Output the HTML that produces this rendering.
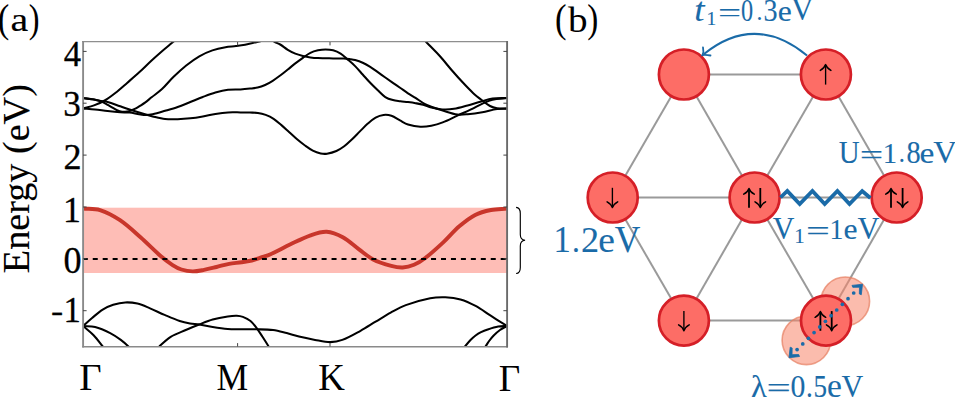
<!DOCTYPE html>
<html><head><meta charset="utf-8"><style>
html,body{margin:0;padding:0;background:#fff;width:955px;height:397px;overflow:hidden;}
svg{display:block;}
text{font-family:"Liberation Serif",serif;}
</style></head><body><svg width="955" height="397" viewBox="0 0 955 397"><defs><clipPath id="cp"><rect x="83.0" y="42.0" width="424.0" height="304.5"/></clipPath></defs><rect x="83.0" y="207.7" width="424.0" height="65.30000000000001" fill="#FEBDB6"/><g clip-path="url(#cp)" fill="none" stroke="#000" stroke-width="2.05" stroke-linecap="round" stroke-linejoin="round"><path d="M83.00,108.50 C86.67,107.47 90.44,106.71 94.00,105.40 C97.67,104.05 101.32,102.47 104.70,100.50 C108.42,98.33 111.90,95.67 115.30,93.00 C119.46,89.73 123.39,86.16 127.40,82.70 C131.46,79.20 135.55,75.72 139.50,72.10 C143.62,68.32 147.51,64.30 151.60,60.50 C155.01,57.34 158.48,54.24 162.00,51.20 C165.62,48.07 169.35,45.08 173.00,42.00 C175.35,40.02 177.67,38.00 180.00,36.00"/><path d="M83.00,98.00 C86.00,98.40 89.02,98.67 92.00,99.20 C95.02,99.74 98.10,100.25 101.00,101.20 C102.77,101.78 104.36,102.89 106.00,103.80 C107.59,104.69 109.12,105.68 110.70,106.60 C112.79,107.82 114.81,109.19 117.00,110.20 C118.58,110.93 120.29,111.56 122.00,111.80 C123.63,112.03 125.36,111.84 127.00,111.60 C128.36,111.40 129.70,110.97 131.00,110.50 C132.67,109.90 134.32,109.21 135.90,108.40 C137.32,107.67 138.65,106.76 140.00,105.90 C141.68,104.83 143.40,103.79 145.00,102.60 C147.26,100.92 149.39,99.05 151.60,97.30 C155.06,94.55 158.78,92.10 162.00,89.10 C165.94,85.43 169.24,81.07 173.10,77.30 C177.30,73.20 181.62,69.17 186.20,65.50 C190.36,62.17 194.70,58.95 199.30,56.30 C203.43,53.92 207.90,51.96 212.40,50.40 C216.63,48.93 221.09,48.00 225.50,47.20 C228.95,46.57 232.51,46.53 236.00,46.10 C239.04,45.73 242.09,45.37 245.10,44.80 C248.19,44.21 251.22,43.28 254.30,42.60 C256.02,42.22 257.82,42.12 259.50,41.60 C261.72,40.92 263.83,39.87 266.00,39.00"/><path d="M83.00,108.50 C87.00,108.83 91.01,109.08 95.00,109.50 C99.21,109.94 103.39,110.63 107.60,111.10 C111.79,111.57 115.99,112.01 120.20,112.30 C123.33,112.51 126.49,112.29 129.60,112.60 C132.79,112.92 135.92,113.74 139.10,114.20 C141.39,114.54 143.70,115.00 146.00,115.00 C148.20,115.00 150.44,114.67 152.60,114.20 C156.81,113.27 160.95,111.99 165.10,110.80 C169.32,109.59 173.56,108.44 177.70,107.00 C181.96,105.51 186.10,103.67 190.30,102.00 C194.47,100.34 198.60,98.57 202.80,97.00 C206.97,95.44 211.13,93.82 215.40,92.60 C219.53,91.42 223.75,90.34 228.00,89.80 C232.12,89.28 236.34,89.63 240.50,89.40 C243.67,89.23 246.84,88.93 250.00,88.60 C252.54,88.33 255.13,88.19 257.60,87.60 C260.16,86.99 262.70,86.08 265.10,85.00 C267.73,83.82 270.25,82.34 272.70,80.80 C275.29,79.17 277.75,77.33 280.20,75.50 C282.78,73.57 285.28,71.52 287.80,69.50 C290.31,67.48 292.75,65.37 295.30,63.40 C297.79,61.47 300.33,59.61 302.90,57.80 C305.36,56.07 307.73,54.12 310.40,52.80 C312.77,51.62 315.41,50.88 318.00,50.30 C320.44,49.75 323.00,49.40 325.50,49.40 C328.03,49.40 330.67,49.62 333.10,50.30 C335.70,51.02 338.31,52.16 340.60,53.60 C343.14,55.20 345.31,57.42 347.60,59.40 C350.14,61.59 352.73,63.73 355.10,66.10 C357.77,68.77 360.17,71.70 362.70,74.50 C365.20,77.27 367.62,80.11 370.20,82.80 C372.66,85.37 375.22,87.85 377.80,90.30 C380.25,92.62 382.51,95.29 385.30,97.10 C387.55,98.56 390.29,99.39 392.90,100.10 C395.32,100.76 397.90,100.87 400.40,101.20 C402.93,101.53 405.47,101.77 408.00,102.10 C410.50,102.43 413.01,102.77 415.50,103.20 C418.04,103.64 420.61,104.04 423.10,104.70 C425.88,105.44 428.51,106.73 431.30,107.40 C435.04,108.30 438.87,109.16 442.70,109.40 C446.44,109.63 450.29,109.40 454.00,108.80 C458.59,108.06 463.09,106.63 467.60,105.40 C472.16,104.16 476.64,102.64 481.20,101.40 C484.94,100.38 488.67,99.10 492.50,98.60 C497.27,97.97 502.17,98.20 507.00,98.00"/><path d="M83.00,98.00 C86.00,98.43 89.01,98.82 92.00,99.30 C95.01,99.78 97.99,100.40 101.00,100.90 C103.19,101.27 105.47,101.30 107.60,101.90 C111.87,103.10 116.00,104.85 120.20,106.30 C123.33,107.38 126.45,108.48 129.60,109.50 C134.72,111.15 139.85,112.76 145.00,114.30 C147.52,115.06 150.04,115.80 152.60,116.40 C156.74,117.37 160.89,118.53 165.10,119.00 C169.26,119.46 173.51,119.32 177.70,119.20 C181.91,119.08 186.12,118.77 190.30,118.30 C194.49,117.83 198.65,117.13 202.80,116.40 C207.02,115.66 211.17,114.57 215.40,113.90 C219.57,113.24 223.79,112.65 228.00,112.40 C232.15,112.15 236.33,112.36 240.50,112.40 C243.67,112.43 246.83,112.51 250.00,112.60 C252.63,112.68 255.31,112.52 257.90,112.90 C260.54,113.29 263.20,113.96 265.70,114.90 C268.43,115.93 271.15,117.21 273.60,118.80 C276.39,120.61 278.86,122.93 281.40,125.10 C284.09,127.40 286.67,129.83 289.30,132.20 C291.91,134.56 294.42,137.03 297.10,139.30 C299.65,141.46 302.29,143.55 305.00,145.50 C307.52,147.31 310.04,149.21 312.80,150.60 C315.28,151.85 318.00,152.81 320.70,153.40 C322.73,153.84 324.95,154.01 327.00,153.70 C330.18,153.21 333.43,152.28 336.40,151.00 C339.16,149.81 341.78,148.11 344.20,146.30 C347.01,144.21 349.55,141.72 352.10,139.30 C354.78,136.75 357.28,134.02 359.90,131.40 C362.52,128.78 365.03,126.04 367.80,123.60 C370.26,121.44 372.77,119.17 375.60,117.60 C378.00,116.27 380.80,115.22 383.50,114.90 C386.07,114.59 388.94,114.88 391.40,115.70 C394.44,116.71 397.11,118.87 400.00,120.40 C402.65,121.80 405.17,123.61 408.00,124.50 C411.94,125.74 416.17,126.57 420.30,126.80 C423.94,127.00 427.71,126.51 431.30,125.80 C435.17,125.04 439.02,123.84 442.70,122.40 C447.72,120.44 452.49,117.85 457.40,115.60 C461.93,113.52 466.51,111.55 471.00,109.40 C475.21,107.38 479.25,105.02 483.50,103.10 C486.42,101.78 489.39,100.38 492.50,99.70 C497.22,98.68 502.17,98.57 507.00,98.00"/><path d="M268.00,38.00 C270.30,39.33 272.56,40.75 274.90,42.00 C276.62,42.92 278.53,43.49 280.20,44.50 C282.83,46.09 285.16,48.21 287.80,49.80 C290.19,51.24 292.71,52.55 295.30,53.60 C297.74,54.59 300.34,55.25 302.90,55.90 C305.37,56.52 307.88,57.03 310.40,57.40 C312.91,57.77 315.46,57.99 318.00,58.10 C323.03,58.32 328.07,58.32 333.10,58.40 C336.63,58.45 340.17,58.33 343.70,58.50 C345.81,58.60 347.91,58.91 350.00,59.20 C351.71,59.44 353.44,59.63 355.10,60.10 C357.68,60.83 360.26,61.70 362.70,62.80 C365.29,63.97 367.78,65.40 370.20,66.90 C372.82,68.53 375.27,70.43 377.80,72.20 C380.31,73.96 382.79,75.74 385.30,77.50 C387.83,79.27 390.36,81.04 392.90,82.80 C395.40,84.54 397.90,86.26 400.40,88.00 C402.94,89.76 405.42,91.61 408.00,93.30 C410.45,94.91 413.03,96.32 415.50,97.90 C418.56,99.86 421.45,102.12 424.60,103.90 C426.71,105.09 429.02,105.97 431.30,106.80 C435.05,108.17 438.87,109.37 442.70,110.50 C447.57,111.94 452.43,113.76 457.40,114.50 C460.73,114.99 464.22,114.51 467.60,114.20 C472.52,113.75 477.43,113.06 482.30,112.20 C487.27,111.32 492.12,109.73 497.10,109.00 C500.36,108.53 503.70,108.73 507.00,108.60"/><path d="M420.00,35.50 C422.07,37.67 424.13,39.84 426.20,42.00 C427.16,43.00 428.13,44.00 429.10,45.00 C432.73,48.77 436.51,52.41 440.00,56.30 C444.14,60.91 447.93,65.82 452.00,70.50 C455.47,74.49 458.98,78.44 462.60,82.30 C465.98,85.91 469.38,89.54 473.00,92.90 C475.84,95.54 478.93,97.93 482.00,100.30 C484.59,102.30 487.14,104.49 490.00,106.00 C492.14,107.13 494.60,107.83 497.00,108.20 C500.27,108.70 503.67,108.47 507.00,108.60"/><path d="M83.00,326.00 C86.03,323.33 89.00,320.58 92.10,318.00 C95.56,315.12 98.91,311.97 102.70,309.60 C105.94,307.57 109.56,305.96 113.20,304.80 C117.09,303.56 121.24,302.60 125.30,302.40 C129.30,302.20 133.49,302.68 137.40,303.60 C141.55,304.58 145.53,306.45 149.50,308.10 C154.59,310.22 159.52,312.73 164.60,314.90 C169.59,317.03 174.57,319.26 179.70,321.00 C183.04,322.13 186.53,322.87 190.00,323.50 C193.00,324.04 196.09,324.04 199.10,324.50 C203.65,325.20 208.15,326.29 212.70,327.00 C217.71,327.79 222.75,328.55 227.80,329.00 C231.32,329.31 234.87,329.26 238.40,329.30 C244.43,329.36 250.47,329.18 256.50,329.30 C262.04,329.41 267.63,329.31 273.10,330.00 C277.69,330.58 282.19,331.97 286.70,333.10 C290.82,334.14 294.87,335.51 299.00,336.50 C304.33,337.78 309.70,338.93 315.10,339.90 C320.10,340.80 325.18,342.10 330.20,342.10 C334.25,342.10 338.50,341.32 342.30,339.90 C348.60,337.55 354.55,334.05 360.50,330.80 C365.65,327.98 370.56,324.72 375.60,321.70 C380.63,318.69 385.57,315.52 390.70,312.70 C395.63,309.99 400.53,307.02 405.80,305.10 C413.70,302.22 421.96,299.93 430.20,298.30 C435.12,297.33 440.29,297.12 445.30,297.30 C450.39,297.48 455.62,298.02 460.50,299.40 C465.72,300.88 470.79,303.31 475.60,305.90 C480.86,308.74 485.65,312.47 490.70,315.70 C496.11,319.17 501.57,322.57 507.00,326.00"/><path d="M83.00,326.00 C87.03,326.33 91.23,325.99 95.10,327.00 C100.29,328.36 105.37,330.68 110.20,333.10 C113.94,334.98 117.43,337.42 120.80,339.90 C123.49,341.88 126.03,344.15 128.40,346.50 C129.76,347.85 130.80,349.50 132.00,351.00"/><path d="M83.00,326.00 C86.53,329.10 90.35,331.92 93.60,335.30 C96.92,338.76 99.72,342.73 102.70,346.50 C103.85,347.96 104.90,349.50 106.00,351.00"/><path d="M155.00,352.00 C156.43,350.17 157.64,348.11 159.30,346.50 C162.87,343.04 166.51,339.41 170.70,336.80 C175.34,333.91 180.74,332.19 185.80,330.00 C190.20,328.09 194.63,326.24 199.10,324.50 C203.60,322.74 208.06,320.81 212.70,319.50 C217.63,318.11 222.73,317.20 227.80,316.40 C230.77,315.93 233.82,315.60 236.80,315.70 C238.85,315.77 240.99,316.16 242.90,316.90 C245.56,317.93 248.29,319.23 250.50,321.00 C252.82,322.86 254.68,325.40 256.50,327.80 C258.68,330.66 260.54,333.77 262.50,336.80 C264.57,340.01 266.64,343.22 268.60,346.50 C269.47,347.96 270.20,349.50 271.00,351.00"/><path d="M461.00,352.00 C462.33,350.17 463.59,348.28 465.00,346.50 C466.76,344.28 468.54,342.04 470.50,340.00 C472.07,338.37 473.79,336.85 475.60,335.50 C477.29,334.25 479.12,333.13 481.00,332.20 C483.15,331.13 485.41,330.24 487.70,329.50 C491.15,328.38 494.65,327.24 498.20,326.60 C501.08,326.08 504.07,326.20 507.00,326.00"/><path d="M481.00,352.00 C482.47,350.17 484.01,348.39 485.40,346.50 C486.84,344.55 488.04,342.43 489.50,340.50 C490.81,338.76 492.17,337.03 493.70,335.50 C495.67,333.53 497.74,331.61 500.00,330.00 C502.18,328.45 504.67,327.33 507.00,326.00"/></g><path clip-path="url(#cp)" d="M83.00,208.50 C88.67,209.03 94.67,208.41 100.00,210.10 C107.00,212.31 113.84,216.06 120.00,220.20 C127.34,225.13 133.83,231.42 140.50,237.30 C147.36,243.35 153.69,250.02 160.60,256.00 C164.39,259.28 168.41,262.38 172.60,265.10 C175.34,266.88 178.30,268.53 181.40,269.50 C185.00,270.63 188.92,271.33 192.70,271.40 C196.46,271.47 200.27,270.59 204.00,269.90 C208.20,269.12 212.34,268.01 216.50,267.00 C220.71,265.98 224.85,264.59 229.10,263.80 C233.25,263.03 237.52,262.91 241.70,262.30 C245.05,261.81 248.42,261.32 251.70,260.50 C254.69,259.75 257.57,258.58 260.50,257.60 C263.87,256.48 267.36,255.64 270.60,254.20 C277.36,251.20 283.80,247.46 290.50,244.30 C297.14,241.16 303.70,237.68 310.60,235.30 C315.76,233.52 321.42,231.47 326.70,231.80 C332.15,232.14 337.88,234.62 342.80,237.30 C348.65,240.49 353.55,245.43 359.00,249.40 C363.65,252.80 368.02,256.80 373.10,259.40 C378.78,262.30 385.12,264.21 391.30,265.90 C394.98,266.91 398.93,267.68 402.70,267.50 C406.50,267.32 410.47,266.28 414.00,264.80 C418.01,263.12 421.83,260.67 425.30,258.00 C431.66,253.10 437.61,247.59 443.50,242.10 C448.94,237.02 453.67,231.13 459.30,226.30 C464.23,222.07 469.47,217.84 475.20,214.90 C480.04,212.41 485.62,211.07 491.00,210.00 C496.22,208.97 501.67,209.07 507.00,208.60" fill="none" stroke="#C8362B" stroke-width="3.9" stroke-linecap="round"/><line x1="82.8" y1="259" x2="507" y2="259" stroke="#000" stroke-width="2" stroke-dasharray="5 4.95"/><g fill="none"><line x1="82.2" y1="41.6" x2="508" y2="41.6" stroke="#8e8e8e" stroke-width="1.3"/><line x1="82.2" y1="346.8" x2="508" y2="346.8" stroke="#8a8a8a" stroke-width="1.5"/><line x1="83.1" y1="41" x2="83.1" y2="347.5" stroke="#8a8a8a" stroke-width="1.9"/><line x1="507.1" y1="41" x2="507.1" y2="347.5" stroke="#6a6a6a" stroke-width="1.9"/></g><g stroke="#444" stroke-width="1"><line x1="83.0" y1="51.4" x2="86.6" y2="51.4"/><line x1="507.0" y1="51.4" x2="503.4" y2="51.4"/><line x1="83.0" y1="103.2" x2="86.6" y2="103.2"/><line x1="507.0" y1="103.2" x2="503.4" y2="103.2"/><line x1="83.0" y1="155.1" x2="86.6" y2="155.1"/><line x1="507.0" y1="155.1" x2="503.4" y2="155.1"/><line x1="83.0" y1="207.0" x2="86.6" y2="207.0"/><line x1="507.0" y1="207.0" x2="503.4" y2="207.0"/><line x1="83.0" y1="258.8" x2="86.6" y2="258.8"/><line x1="507.0" y1="258.8" x2="503.4" y2="258.8"/><line x1="83.0" y1="310.7" x2="86.6" y2="310.7"/><line x1="507.0" y1="310.7" x2="503.4" y2="310.7"/><line x1="237.6" y1="42.0" x2="237.6" y2="45.4"/><line x1="237.6" y1="346.5" x2="237.6" y2="343.1"/><line x1="330.0" y1="42.0" x2="330.0" y2="45.4"/><line x1="330.0" y1="346.5" x2="330.0" y2="343.1"/></g><text transform="translate(63.67,65.55) scale(0.34635,0.36615)" font-size="100" fill="#000" stroke="#000" stroke-width="0.84" stroke-linejoin="round">4</text><text transform="translate(63.37,116.00) scale(0.35102,0.36316)" font-size="100" fill="#000" stroke="#000" stroke-width="0.84" stroke-linejoin="round">3</text><text transform="translate(63.46,168.55) scale(0.36171,0.35946)" font-size="100" fill="#000" stroke="#000" stroke-width="0.83" stroke-linejoin="round">2</text><text transform="translate(63.10,222.45) scale(0.35790,0.36809)" font-size="100" fill="#000" stroke="#000" stroke-width="0.83" stroke-linejoin="round">1</text><text transform="translate(63.38,272.69) scale(0.36100,0.36900)" font-size="100" fill="#000" stroke="#000" stroke-width="0.82" stroke-linejoin="round">0</text><text transform="translate(50.99,321.19) scale(0.36571,0.29448)" font-size="100" fill="#000" stroke="#000" stroke-width="0.91" stroke-linejoin="round">-</text><text transform="translate(63.60,321.65) scale(0.34654,0.34992)" font-size="100" fill="#000" stroke="#000" stroke-width="0.86" stroke-linejoin="round">1</text><text transform="translate(79.29,390.30) scale(0.38678,0.37111)" font-size="100" fill="#000">Γ</text><text transform="translate(216.47,390.20) scale(0.35617,0.36959)" font-size="100" fill="#000">M</text><text transform="translate(318.24,390.20) scale(0.36890,0.36959)" font-size="100" fill="#000">K</text><text transform="translate(498.73,391.00) scale(0.37131,0.38486)" font-size="100" fill="#000">Γ</text><text transform="translate(-2.22,31.70) scale(0.34652,0.39923)" font-size="100" fill="#000">(</text><text transform="translate(10.57,30.79) scale(0.39871,0.34133)" font-size="100" fill="#000" stroke="#000" stroke-width="0.41" stroke-linejoin="round">a</text><text transform="translate(28.66,31.70) scale(0.32316,0.39923)" font-size="100" fill="#000">)</text><text transform="translate(554.98,32.01) scale(0.34652,0.40364)" font-size="100" fill="#000">(</text><text transform="translate(567.90,31.64) scale(0.39185,0.36668)" font-size="100" fill="#000">b</text><text transform="translate(587.23,32.01) scale(0.33095,0.40364)" font-size="100" fill="#000">)</text><text font-family="Liberation Serif" font-size="38.2" fill="#000" stroke="#000" stroke-width="0.1" transform="translate(29,273.2) rotate(-90)">Energy (eV)</text><path d="M516.1,207.4 C519.3,207.6 520.3,209.8 520.3,213.5 L520.3,234.5 C520.3,238.3 522,240.1 525.1,240.3 C522,240.5 520.3,242.3 520.3,246.1 L520.3,267.4 C520.3,271.2 519.3,273.3 516.1,273.5" fill="none" stroke="#000" stroke-width="1.15"/><g stroke="#9a9a9a" stroke-width="2"><line x1="683.9" y1="74.5" x2="825.9" y2="74.5"/><line x1="683.9" y1="74.5" x2="612.7" y2="197.5"/><line x1="683.9" y1="74.5" x2="754.6" y2="197.5"/><line x1="825.9" y1="74.5" x2="754.6" y2="197.5"/><line x1="825.9" y1="74.5" x2="896.7" y2="197.5"/><line x1="612.7" y1="197.5" x2="754.6" y2="197.5"/><line x1="754.6" y1="197.5" x2="896.7" y2="197.5"/><line x1="612.7" y1="197.5" x2="683.9" y2="320.6"/><line x1="754.6" y1="197.5" x2="683.9" y2="320.6"/><line x1="754.6" y1="197.5" x2="826.0" y2="320.6"/><line x1="896.7" y1="197.5" x2="826.0" y2="320.6"/><line x1="683.9" y1="320.6" x2="826.0" y2="320.6"/></g><g fill="#F8856A" fill-opacity="0.55" stroke="#E57D60" stroke-opacity="0.7" stroke-width="1.6"><circle cx="845.3" cy="301.3" r="24.3"/><circle cx="806.4" cy="340.3" r="24.3"/></g><g fill="#FD6D66" stroke="#D51F27" stroke-width="2.7"><circle cx="683.9" cy="74.5" r="25"/><circle cx="825.9" cy="74.5" r="25"/><circle cx="612.7" cy="197.5" r="25"/><circle cx="754.6" cy="197.5" r="25"/><circle cx="896.7" cy="197.5" r="25"/><circle cx="683.9" cy="320.6" r="25"/><circle cx="826.0" cy="320.6" r="25"/></g><path d="M825.6,65.6 L825.6,84.6" stroke="#000" stroke-width="1.35" fill="none"/><path d="M820.3000000000001,70.39999999999999 Q824.4,68.19999999999999 825.6,64.6 Q826.8000000000001,68.19999999999999 830.9,70.39999999999999" stroke="#000" stroke-width="1.5" fill="none" stroke-linecap="round" stroke-linejoin="round"/><path d="M612.4,187.8 L612.4,206.6" stroke="#000" stroke-width="1.35" fill="none"/><path d="M607.1,201.79999999999998 Q611.1999999999999,204.0 612.4,207.6 Q613.6,204.0 617.6999999999999,201.79999999999998" stroke="#000" stroke-width="1.5" fill="none" stroke-linecap="round" stroke-linejoin="round"/><path d="M749.0,189.4 L749.0,207.7" stroke="#000" stroke-width="1.8" fill="none"/><path d="M743.7,194.20000000000002 Q747.8,192.0 749.0,188.4 Q750.2,192.0 754.3,194.20000000000002" stroke="#000" stroke-width="1.5" fill="none" stroke-linecap="round" stroke-linejoin="round"/><path d="M760.3,188.0 L760.3,206.6" stroke="#000" stroke-width="1.8" fill="none"/><path d="M755.0,201.79999999999998 Q759.0999999999999,204.0 760.3,207.6 Q761.5,204.0 765.5999999999999,201.79999999999998" stroke="#000" stroke-width="1.5" fill="none" stroke-linecap="round" stroke-linejoin="round"/><path d="M891.0,189.4 L891.0,207.7" stroke="#000" stroke-width="1.8" fill="none"/><path d="M885.7,194.20000000000002 Q889.8,192.0 891.0,188.4 Q892.2,192.0 896.3,194.20000000000002" stroke="#000" stroke-width="1.5" fill="none" stroke-linecap="round" stroke-linejoin="round"/><path d="M902.6,188.0 L902.6,206.6" stroke="#000" stroke-width="1.8" fill="none"/><path d="M897.3000000000001,201.79999999999998 Q901.4,204.0 902.6,207.6 Q903.8000000000001,204.0 907.9,201.79999999999998" stroke="#000" stroke-width="1.5" fill="none" stroke-linecap="round" stroke-linejoin="round"/><path d="M683.9,310.9 L683.9,329.7" stroke="#000" stroke-width="1.35" fill="none"/><path d="M678.6,324.9 Q682.6999999999999,327.09999999999997 683.9,330.7 Q685.1,327.09999999999997 689.1999999999999,324.9" stroke="#000" stroke-width="1.5" fill="none" stroke-linecap="round" stroke-linejoin="round"/><path d="M820.4,312.5 L820.4,330.8" stroke="#000" stroke-width="1.8" fill="none"/><path d="M815.1,317.3 Q819.1999999999999,315.1 820.4,311.5 Q821.6,315.1 825.6999999999999,317.3" stroke="#000" stroke-width="1.5" fill="none" stroke-linecap="round" stroke-linejoin="round"/><path d="M831.7,311.1 L831.7,329.7" stroke="#000" stroke-width="1.8" fill="none"/><path d="M826.4000000000001,324.9 Q830.5,327.09999999999997 831.7,330.7 Q832.9000000000001,327.09999999999997 837.0,324.9" stroke="#000" stroke-width="1.5" fill="none" stroke-linecap="round" stroke-linejoin="round"/><polyline points="780.5,197.5 787.3,191 799.7,204 812.4,191 824.7,204 837.4,191 849.5,204 862.2,191 870.4,198" fill="none" stroke="#1A6BA8" stroke-width="3.8" stroke-linejoin="miter"/><path d="M807,55.5 Q755,13 704,54" fill="none" stroke="#1A6BA8" stroke-width="2"/><path d="M703,47.5 Q704,52 702.5,55 Q706,54.5 710.5,55.5" fill="none" stroke="#1A6BA8" stroke-width="1.8" stroke-linecap="round"/><g fill="#1A6BA8"><circle cx="797.10" cy="349.60" r="1.85"/><circle cx="802.76" cy="343.94" r="1.85"/><circle cx="808.42" cy="338.28" r="1.85"/><circle cx="814.08" cy="332.62" r="1.85"/><circle cx="819.74" cy="326.96" r="1.85"/><circle cx="825.40" cy="321.30" r="1.85"/><circle cx="831.06" cy="315.64" r="1.85"/><circle cx="836.72" cy="309.98" r="1.85"/><circle cx="842.38" cy="304.32" r="1.85"/><circle cx="848.04" cy="298.66" r="1.85"/><circle cx="853.70" cy="293.00" r="1.85"/></g><path d="M862.51,284.19 L851.98,285.39 L852.82,287.37 L859.47,287.23 L859.33,293.88 L861.31,294.72 Z" fill="#1A6BA8" stroke="#1A6BA8" stroke-width="0.8" stroke-linejoin="round"/><path d="M788.99,357.71 L799.52,356.51 L798.68,354.53 L792.03,354.67 L792.17,348.02 L790.19,347.18 Z" fill="#1A6BA8" stroke="#1A6BA8" stroke-width="0.8" stroke-linejoin="round"/><text transform="translate(694.32,20.81) scale(0.37022,0.34395)" font-size="100" font-style="italic" fill="#1A6BA8" stroke="#1A6BA8" stroke-width="0.28" stroke-linejoin="round">t</text><text transform="translate(706.43,24.75) scale(0.19599,0.19844)" font-size="100" fill="#1A6BA8" stroke="#1A6BA8" stroke-width="0.51" stroke-linejoin="round">1</text><text transform="translate(717.91,22.35) scale(0.41046,0.28000)" font-size="100" fill="#1A6BA8" stroke="#1A6BA8" stroke-width="0.29" stroke-linejoin="round">=</text><text transform="translate(740.92,20.75) scale(0.24302,0.30676)" font-size="100" fill="#1A6BA8" stroke="#1A6BA8" stroke-width="0.36" stroke-linejoin="round">0</text><text transform="translate(756.59,19.98) scale(0.23696,0.26235)" font-size="100" fill="#1A6BA8" stroke="#1A6BA8" stroke-width="0.40" stroke-linejoin="round">.</text><text transform="translate(763.51,20.75) scale(0.28081,0.30809)" font-size="100" fill="#1A6BA8" stroke="#1A6BA8" stroke-width="0.34" stroke-linejoin="round">3</text><text transform="translate(777.82,20.77) scale(0.31612,0.28901)" font-size="100" fill="#1A6BA8" stroke="#1A6BA8" stroke-width="0.33" stroke-linejoin="round">e</text><text transform="translate(791.31,20.17) scale(0.30441,0.31795)" font-size="100" fill="#1A6BA8" stroke="#1A6BA8" stroke-width="0.32" stroke-linejoin="round">V</text><text transform="translate(838.64,163.14) scale(0.28963,0.31901)" font-size="100" fill="#1A6BA8" stroke="#1A6BA8" stroke-width="0.33" stroke-linejoin="round">U</text><text transform="translate(859.77,164.26) scale(0.41691,0.27600)" font-size="100" fill="#1A6BA8" stroke="#1A6BA8" stroke-width="0.29" stroke-linejoin="round">=</text><text transform="translate(882.83,162.75) scale(0.28689,0.29993)" font-size="100" fill="#1A6BA8" stroke="#1A6BA8" stroke-width="0.34" stroke-linejoin="round">1</text><text transform="translate(898.73,162.45) scale(0.24542,0.27927)" font-size="100" fill="#1A6BA8" stroke="#1A6BA8" stroke-width="0.38" stroke-linejoin="round">.</text><text transform="translate(906.47,162.95) scale(0.28313,0.30676)" font-size="100" fill="#1A6BA8" stroke="#1A6BA8" stroke-width="0.34" stroke-linejoin="round">8</text><text transform="translate(919.44,162.95) scale(0.33503,0.30356)" font-size="100" fill="#1A6BA8" stroke="#1A6BA8" stroke-width="0.31" stroke-linejoin="round">e</text><text transform="translate(933.18,162.96) scale(0.32728,0.32243)" font-size="100" fill="#1A6BA8" stroke="#1A6BA8" stroke-width="0.31" stroke-linejoin="round">V</text><text transform="translate(553.40,251.95) scale(0.34654,0.37264)" font-size="100" fill="#1A6BA8" stroke="#1A6BA8" stroke-width="0.28" stroke-linejoin="round">1</text><text transform="translate(571.99,251.58) scale(0.31312,0.33005)" font-size="100" fill="#1A6BA8" stroke="#1A6BA8" stroke-width="0.31" stroke-linejoin="round">.</text><text transform="translate(580.96,251.95) scale(0.36171,0.36701)" font-size="100" fill="#1A6BA8" stroke="#1A6BA8" stroke-width="0.27" stroke-linejoin="round">2</text><text transform="translate(598.28,251.80) scale(0.37556,0.36178)" font-size="100" fill="#1A6BA8" stroke="#1A6BA8" stroke-width="0.27" stroke-linejoin="round">e</text><text transform="translate(614.75,251.78) scale(0.35443,0.37766)" font-size="100" fill="#1A6BA8" stroke="#1A6BA8" stroke-width="0.27" stroke-linejoin="round">V</text><text transform="translate(772.81,239.26) scale(0.30013,0.32392)" font-size="100" fill="#1A6BA8" stroke="#1A6BA8" stroke-width="0.32" stroke-linejoin="round">V</text><text transform="translate(794.20,242.95) scale(0.21020,0.19995)" font-size="100" fill="#1A6BA8" stroke="#1A6BA8" stroke-width="0.49" stroke-linejoin="round">1</text><text transform="translate(806.04,240.38) scale(0.42335,0.27200)" font-size="100" fill="#1A6BA8" stroke="#1A6BA8" stroke-width="0.29" stroke-linejoin="round">=</text><text transform="translate(829.40,238.55) scale(0.27837,0.29538)" font-size="100" fill="#1A6BA8" stroke="#1A6BA8" stroke-width="0.35" stroke-linejoin="round">1</text><text transform="translate(843.52,238.86) scale(0.31612,0.29524)" font-size="100" fill="#1A6BA8" stroke="#1A6BA8" stroke-width="0.33" stroke-linejoin="round">e</text><text transform="translate(857.61,239.06) scale(0.30298,0.32093)" font-size="100" fill="#1A6BA8" stroke="#1A6BA8" stroke-width="0.32" stroke-linejoin="round">V</text><text transform="translate(750.99,397.25) scale(0.32441,0.31245)" font-size="100" fill="#1A6BA8" stroke="#1A6BA8" stroke-width="0.31" stroke-linejoin="round">λ</text><text transform="translate(766.50,398.03) scale(0.43195,0.28400)" font-size="100" fill="#1A6BA8" stroke="#1A6BA8" stroke-width="0.28" stroke-linejoin="round">=</text><text transform="translate(790.42,397.24) scale(0.29729,0.31713)" font-size="100" fill="#1A6BA8" stroke="#1A6BA8" stroke-width="0.33" stroke-linejoin="round">0</text><text transform="translate(805.96,396.91) scale(0.27081,0.31312)" font-size="100" fill="#1A6BA8" stroke="#1A6BA8" stroke-width="0.34" stroke-linejoin="round">.</text><text transform="translate(813.48,397.23) scale(0.27058,0.32503)" font-size="100" fill="#1A6BA8" stroke="#1A6BA8" stroke-width="0.34" stroke-linejoin="round">5</text><text transform="translate(826.94,397.23) scale(0.33503,0.32851)" font-size="100" fill="#1A6BA8" stroke="#1A6BA8" stroke-width="0.30" stroke-linejoin="round">e</text><text transform="translate(841.51,396.86) scale(0.30155,0.32243)" font-size="100" fill="#1A6BA8" stroke="#1A6BA8" stroke-width="0.32" stroke-linejoin="round">V</text></svg></body></html>
